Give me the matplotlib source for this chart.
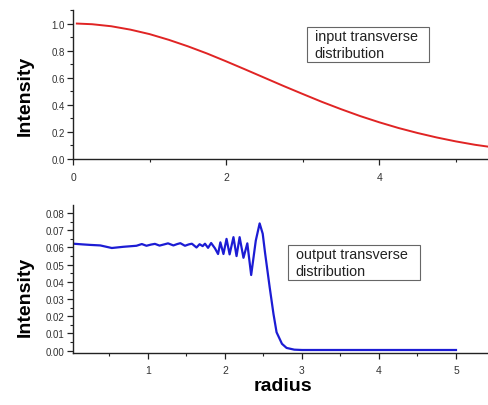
"""Input vs output transverse intensity distribution over radius."""

import numpy as np
import matplotlib.pyplot as plt
from matplotlib.patches import Rectangle
from matplotlib.ticker import MultipleLocator, FormatStrFormatter

# input beam profile (top panel)
radius_in = [0.05, 0.25, 0.5, 0.75, 1.0, 1.25, 1.5, 1.75, 2.0, 2.25, 2.5,
             2.75, 3.0, 3.25, 3.5, 3.75, 4.0, 4.25, 4.5, 4.75, 5.0, 5.25, 5.5]
intensity_in = [1.000, 0.995, 0.980, 0.955, 0.922, 0.880, 0.832, 0.779, 0.721,
                0.661, 0.600, 0.539, 0.480, 0.422, 0.368, 0.317, 0.271, 0.229,
                0.192, 0.159, 0.130, 0.105, 0.085]

# output beam profile (bottom panel)
radius_out = [0.03, 0.15, 0.25, 0.38, 0.53, 0.68, 0.85, 0.92, 0.98, 1.04, 1.09,
              1.15, 1.21, 1.26, 1.33, 1.38, 1.42, 1.48, 1.53, 1.57, 1.63, 1.67,
              1.71, 1.74, 1.78, 1.82, 1.87, 1.91, 1.94, 1.98, 2.02, 2.06, 2.11,
              2.15, 2.19, 2.24, 2.29, 2.34, 2.40, 2.45, 2.49, 2.52, 2.58, 2.63,
              2.67, 2.74, 2.80, 2.90, 3.00, 4.00, 5.00]
intensity_out = [0.0622, 0.0618, 0.0615, 0.0612, 0.0597, 0.0604, 0.0610, 0.0620,
                 0.0610, 0.0617, 0.0621, 0.0611, 0.0618, 0.0624, 0.0612, 0.0620,
                 0.0625, 0.0610, 0.0618, 0.0622, 0.0600, 0.0619, 0.0608, 0.0622,
                 0.0598, 0.0626, 0.0595, 0.0562, 0.0630, 0.0562, 0.0650, 0.0560,
                 0.0660, 0.0550, 0.0660, 0.0540, 0.0624, 0.0440, 0.0640, 0.0740,
                 0.0680, 0.0570, 0.0370, 0.0213, 0.0107, 0.0040, 0.0016, 0.0006,
                 0.0004, 0.0004, 0.0004]

plt.rcParams['font.family'] = ['Liberation Sans', 'DejaVu Sans']

fig = plt.figure(figsize=(4.88, 4.06), dpi=100)
ax_in = fig.add_axes([0.1496, 0.6059, 0.8504, 0.367])
ax_out = fig.add_axes([0.1496, 0.1281, 0.8504, 0.3645])


def style_axes(ax):
    for side in ('top', 'right'):
        ax.spines[side].set_visible(False)
    for side in ('left', 'bottom'):
        ax.spines[side].set_color('#222222')
        ax.spines[side].set_linewidth(1.0)
    ax.tick_params(which='major', direction='out', length=4, width=0.9,
                   color='#222222', labelcolor='#333333')
    ax.tick_params(which='minor', direction='out', length=2.2, width=0.8,
                   color='#222222')
    ax.tick_params(axis='y', labelsize=7, pad=2)
    ax.tick_params(axis='x', labelsize=7.5, pad=5)


def label_box(x, y, w, h, text):
    # framed caption, coordinates in figure fraction
    fig.patches.append(Rectangle((x, y), w, h, transform=fig.transFigure,
                                 facecolor='white', edgecolor='#666666',
                                 linewidth=0.8, zorder=3))
    fig.text(x + 0.016, y + h / 2, text, fontsize=10.4, ha='left',
             va='center', color='#222222', linespacing=1.2, zorder=4)


ax_in.plot(radius_in, intensity_in, color='#e02424', lw=1.4)
ax_in.set_xlim(0, 5.42)
ax_in.set_ylim(0, 1.1)
ax_in.xaxis.set_major_locator(MultipleLocator(2))
ax_in.xaxis.set_minor_locator(MultipleLocator(1))
ax_in.yaxis.set_major_locator(MultipleLocator(0.2))
ax_in.yaxis.set_minor_locator(MultipleLocator(0.1))
ax_in.yaxis.set_major_formatter(FormatStrFormatter('%.1f'))
style_axes(ax_in)

ax_out.plot(radius_out, intensity_out, color='#1c1cd4', lw=1.6)
ax_out.set_xlim(0.026, 5.416)
ax_out.set_ylim(-0.00134, 0.0847)
ax_out.xaxis.set_major_locator(MultipleLocator(1))
ax_out.xaxis.set_minor_locator(MultipleLocator(0.5))
ax_out.yaxis.set_major_locator(MultipleLocator(0.01))
ax_out.yaxis.set_minor_locator(MultipleLocator(0.005))
ax_out.yaxis.set_major_formatter(FormatStrFormatter('%.2f'))
style_axes(ax_out)

label_box(0.629, 0.845, 0.250, 0.0862, 'input transverse\ndistribution')
label_box(0.590, 0.308, 0.2705, 0.0862, 'output transverse\ndistribution')

fig.text(0.051, 0.764, 'Intensity', fontsize=14, fontweight='bold',
         rotation=90, ha='center', va='center')
fig.text(0.051, 0.268, 'Intensity', fontsize=14, fontweight='bold',
         rotation=90, ha='center', va='center')
fig.text(0.58, 0.047, 'radius', fontsize=14, fontweight='bold',
         ha='center', va='center')

fig.savefig('out.png', dpi=100)
